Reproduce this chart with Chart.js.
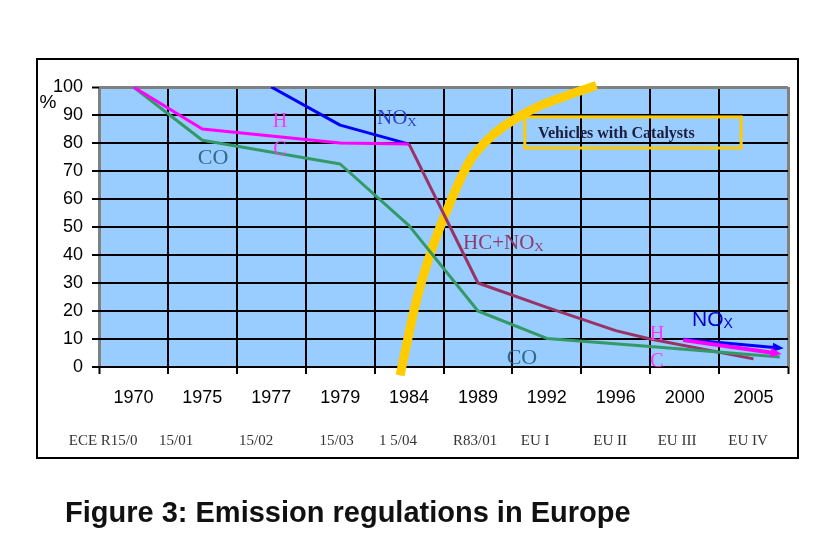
<!DOCTYPE html>
<html>
<head>
<meta charset="utf-8">
<script src="https://cdn.jsdelivr.net/npm/chart.js@4.4.1/dist/chart.umd.min.js"></script>
<style>
  html, body { margin: 0; padding: 0; background: #fff; }
</style>
</head>
<body>
<canvas id="emissionChart" width="830" height="546"></canvas>
<script>
// --- data (x = position in year slots, 0..10; y = % of 1970 level) ---
const yearLabels = ['1970', '1975', '1977', '1979', '1984', '1989', '1992', '1996', '2000', '2005'];
const regulationLabels = ['ECE R15/0', '15/01', '15/02', '15/03', '1 5/04', 'R83/01', 'EU I', 'EU II', 'EU III', 'EU IV'];
const regulationPos = [0.06, 1.12, 2.28, 3.45, 4.34, 5.46, 6.33, 7.42, 8.39, 9.42];

const coX = [0.5, 1.5, 3.5, 4.5, 5.5, 6.5, 8.0, 9.88];
const coY = [100, 81, 72.5, 50.5, 20, 10.2, 7.3, 3.6];

const hcX = [0.5, 1.5, 3.5, 4.5];
const hcY = [100, 85, 80, 79.6];

const noxX = [2.5, 3.5, 4.5];
const noxY = [100, 86.4, 79.6];

const hcNoxX = [4.5, 5.5, 6.5, 7.5, 8.0, 9.5];
const hcNoxY = [79.6, 30, 21.3, 13, 10, 2.9];

const noxEuX = [8.48, 9.88];
const noxEuY = [9.9, 6.8];

const hcEuX = [8.48, 9.85];
const hcEuY = [9.6, 4.8];

// share of vehicles with catalysts
const catX = [4.37, 4.6, 4.83, 5.05, 5.38, 5.7, 6.0, 6.4, 6.8, 7.22];
const catY = [-3, 23, 42, 56, 73.5, 82.5, 88, 93.3, 97, 100.5];

const toPts = (xs, ys) => xs.map((x, i) => ({ x: x, y: ys[i] }));

const SANS = '"Liberation Sans", Arial, sans-serif';
const SERIF = '"Liberation Serif", "Times New Roman", serif';

// --- decoration: plot background, labels, arrows, frame, caption ---
function drawArrow(ctx, meta, color) {
  const pts = meta.data;
  const a = pts[pts.length - 2], b = pts[pts.length - 1];
  const ang = Math.atan2(b.y - a.y, b.x - a.x);
  const len = 11, half = 4.5;
  const tipX = b.x + Math.cos(ang) * 4, tipY = b.y + Math.sin(ang) * 4;
  ctx.save();
  ctx.fillStyle = color;
  ctx.beginPath();
  ctx.moveTo(tipX, tipY);
  ctx.lineTo(tipX - Math.cos(ang) * len - Math.sin(ang) * half, tipY - Math.sin(ang) * len + Math.cos(ang) * half);
  ctx.lineTo(tipX - Math.cos(ang) * len + Math.sin(ang) * half, tipY - Math.sin(ang) * len - Math.cos(ang) * half);
  ctx.closePath();
  ctx.fill();
  ctx.restore();
}

const decorPlugin = {
  id: 'decor',
  beforeDraw(chart) {
    const { ctx, chartArea: a } = chart;
    ctx.save();
    ctx.fillStyle = '#ffffff';
    ctx.fillRect(0, 0, chart.width, chart.height);
    ctx.fillStyle = '#99ccff';
    ctx.fillRect(a.left, a.top, a.right - a.left, a.bottom - a.top);
    ctx.restore();
  },
  afterDatasetsDraw(chart) {
    const { ctx } = chart;
    const sx = chart.scales.x, sy = chart.scales.y;
    const px = v => sx.getPixelForValue(v);
    const py = v => sy.getPixelForValue(v);

    drawArrow(ctx, chart.getDatasetMeta(4), '#0000ff');
    drawArrow(ctx, chart.getDatasetMeta(5), '#ff00ff');

    ctx.save();
    ctx.textBaseline = 'middle';

    // label with a subscript x
    function noxLabel(xv, yv, font, subFont, color) {
      ctx.font = font;
      ctx.fillStyle = color;
      ctx.textAlign = 'left';
      ctx.fillText('NO', px(xv), py(yv));
      const w = ctx.measureText('NO').width;
      ctx.font = subFont;
      ctx.fillText('X', px(xv) + w, py(yv) + 4);
    }
    function centerLabel(text, xv, yv, font, color) {
      ctx.font = font;
      ctx.fillStyle = color;
      ctx.textAlign = 'center';
      ctx.fillText(text, px(xv), py(yv));
    }

    centerLabel('CO', 1.655, 74.6, '22px ' + SERIF, '#2f6b8c');
    centerLabel('H', 2.627, 87.5, '20px ' + SERIF, '#ff33ff');
    centerLabel('C', 2.627, 77.7, '20px ' + SERIF, '#ff33ff');
    noxLabel(4.035, 88.9, '21px ' + SERIF, '13px ' + SERIF, '#2a3ccc');

    ctx.font = '21px ' + SERIF;
    ctx.fillStyle = '#8e3a6a';
    ctx.textAlign = 'left';
    ctx.fillText('HC+NO', px(5.283), py(44.1));
    const hw = ctx.measureText('HC+NO').width;
    ctx.font = '13px ' + SERIF;
    ctx.fillText('X', px(5.283) + hw, py(44.1) + 4);

    centerLabel('CO', 6.139, 3.2, '22px ' + SERIF, '#2f6b8c');
    centerLabel('H', 8.099, 11.4, '20px ' + SERIF, '#ff33ff');
    centerLabel('C', 8.099, 1.8, '20px ' + SERIF, '#ff33ff');
    noxLabel(8.607, 16.8, '21px ' + SANS, '14px ' + SANS, '#0000cc');

    // catalyst box
    ctx.strokeStyle = '#ffcc00';
    ctx.lineWidth = 3;
    ctx.strokeRect(px(6.18), py(89.3), px(9.32) - px(6.18), py(78.2) - py(89.3));
    ctx.font = 'bold 16px ' + SERIF;
    ctx.fillStyle = '#1c1c3c';
    ctx.textAlign = 'left';
    ctx.fillText('Vehicles with Catalysts', px(6.37), py(83.2));

    // % unit
    ctx.font = '19px ' + SANS;
    ctx.fillStyle = '#000';
    ctx.textAlign = 'center';
    ctx.fillText('%', 48, 103);

    // outer frame
    ctx.strokeStyle = '#000';
    ctx.lineWidth = 2;
    ctx.strokeRect(37, 59, 761, 399);

    // caption
    ctx.font = 'bold 29px ' + SANS;
    ctx.fillStyle = '#111';
    ctx.textAlign = 'left';
    ctx.textBaseline = 'alphabetic';
    ctx.fillText('Figure 3: Emission regulations in Europe', 65, 522);
    ctx.restore();
  }
};

// --- chart ---
const ctx = document.getElementById('emissionChart').getContext('2d');
new Chart(ctx, {
  type: 'line',
  data: {
    datasets: [
      { label: 'CO', data: toPts(coX, coY), borderColor: '#339966', borderWidth: 3, order: 3, xAxisID: 'x', yAxisID: 'y' },
      { label: 'HC', data: toPts(hcX, hcY), borderColor: '#ff00ff', borderWidth: 3, order: 2, xAxisID: 'x', yAxisID: 'y' },
      { label: 'NOx', data: toPts(noxX, noxY), borderColor: '#0000ff', borderWidth: 3, order: 2, xAxisID: 'x', yAxisID: 'y' },
      { label: 'HC+NOx', data: toPts(hcNoxX, hcNoxY), borderColor: '#993366', borderWidth: 3, order: 3, xAxisID: 'x', yAxisID: 'y' },
      { label: 'NOx EU', data: toPts(noxEuX, noxEuY), borderColor: '#0000ff', borderWidth: 3, order: 1, xAxisID: 'x', yAxisID: 'y' },
      { label: 'HC EU', data: toPts(hcEuX, hcEuY), borderColor: '#ff00ff', borderWidth: 4, order: 0, xAxisID: 'x', yAxisID: 'y' },
      { label: 'Vehicles with Catalysts', data: toPts(catX, catY), borderColor: '#ffcc00', borderWidth: 9,
        cubicInterpolationMode: 'monotone', clip: false, order: 9, xAxisID: 'x', yAxisID: 'y' }
    ]
  },
  options: {
    responsive: false,
    animation: false,
    events: [],
    elements: {
      point: { radius: 0 },
      line: { tension: 0, borderJoinStyle: 'round' }
    },
    layout: { padding: { left: 0, top: 87, right: 42, bottom: 96 } },
    plugins: { legend: { display: false }, tooltip: { enabled: false } },
    scales: {
      x: {
        type: 'linear', position: 'bottom', min: 0, max: 10,
        ticks: { display: false, stepSize: 1 },
        border: { display: false },
        grid: {
          color: c => (c.tick.value === 0 || c.tick.value === 10) ? '#808080' : '#000',
          lineWidth: c => (c.tick.value === 0 || c.tick.value === 10) ? 3 : 2,
          tickColor: '#000', tickWidth: 2, tickLength: 7
        },
        afterFit: s => { s.height = 7; }
      },
      xYear: {
        type: 'category', position: 'bottom', labels: yearLabels, offset: true,
        border: { display: false },
        grid: { display: false, drawTicks: false },
        ticks: { font: { family: SANS, size: 18 }, color: '#000', padding: 13, maxRotation: 0, autoSkip: false },
        afterFit: s => { s.height = 36; }
      },
      xReg: {
        type: 'linear', position: 'bottom', min: 0, max: 10,
        border: { display: false },
        grid: { display: false, drawTicks: false },
        afterBuildTicks: s => { s.ticks = regulationPos.map(v => ({ value: v })); },
        ticks: {
          font: { family: SERIF, size: 15 }, color: '#333', padding: 22, maxRotation: 0, autoSkip: false,
          callback: (v, i) => regulationLabels[i]
        },
        afterFit: s => { s.height = 40; }
      },
      y: {
        min: 0, max: 100,
        border: { display: false },
        ticks: { stepSize: 10, font: { family: SANS, size: 18 }, color: '#000', padding: 9 },
        grid: {
          color: c => c.tick.value === 100 ? '#808080' : '#000',
          lineWidth: c => c.tick.value === 100 ? 3 : 2,
          tickColor: '#000', tickWidth: 2, tickLength: 7
        },
        afterFit: s => { s.width = 99; }
      }
    }
  },
  plugins: [decorPlugin]
});
</script>
</body>
</html>
